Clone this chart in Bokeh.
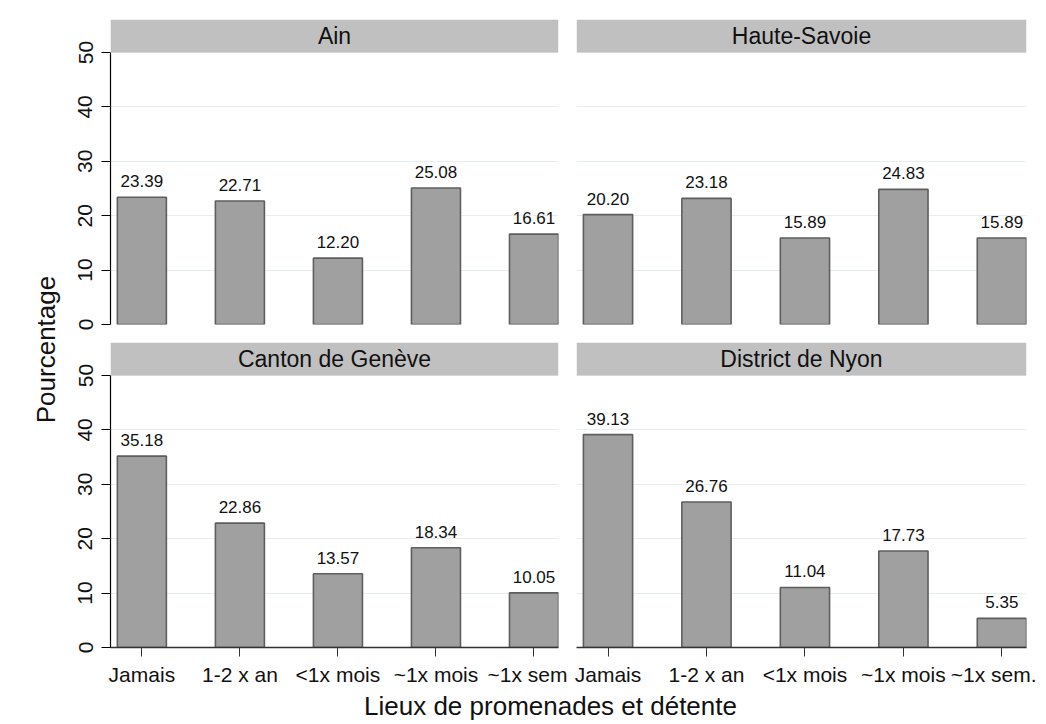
import math
from bokeh.plotting import figure
from bokeh.models import Range1d, FixedTicker, BoxAnnotation, Label, LabelSet, ColumnDataSource
from bokeh.core.properties import value
from bokeh.layouts import row, column
from bokeh.embed import file_html
from bokeh.resources import INLINE

# ---- data ----
panel_titles = ["Ain", "Haute-Savoie", "Canton de Genève", "District de Nyon"]
categories_left = ["Jamais", "1-2 x an", "<1x mois", "~1x mois", "~1x sem"]
categories_right = ["Jamais", "1-2 x an", "<1x mois", "~1x mois", "~1x sem."]
ain = [23.39, 22.71, 12.20, 25.08, 16.61]
haute_savoie = [20.20, 23.18, 15.89, 24.83, 15.89]
canton_geneve = [35.18, 22.86, 13.57, 18.34, 10.05]
district_nyon = [39.13, 26.76, 11.04, 17.73, 5.35]
y_ticks = [0, 10, 20, 30, 40, 50]
y_title = "Pourcentage"
x_title = "Lieux de promenades et détente"

# ---- style ----
FONT = "Liberation Sans"
PLOT_H = 272
HEAD_H = 33
FRAME_H = PLOT_H + HEAD_H
YMAX = 50
Y_TOP = YMAX * FRAME_H / PLOT_H
X0, X1 = 0.68, 5.25
BAR_FILL = "#a0a0a0"
BAR_LINE = "#5e5e5e"
HEAD_FILL = "#c0c0c0"
GRID = "#e6eef1"


def panel(title, values, labels, frame_w, show_y, show_x, mbl, mbr, mbt, mbb):
    p = figure(frame_width=frame_w, frame_height=FRAME_H,
               x_range=Range1d(X0, X1), y_range=Range1d(0, Y_TOP),
               output_backend="svg", toolbar_location=None,
               min_border_left=mbl, min_border_right=mbr,
               min_border_top=mbt, min_border_bottom=mbb)
    p.outline_line_color = None
    p.background_fill_color = "white"
    p.border_fill_color = "white"
    p.xgrid.visible = False
    p.ygrid.ticker = FixedTicker(ticks=y_ticks)
    p.ygrid.grid_line_color = GRID
    p.ygrid.grid_line_width = 1.2

    xs = list(range(1, len(values) + 1))
    src = ColumnDataSource(dict(x=xs, top=values, label=["%.2f" % v for v in values]))
    p.vbar(x="x", top="top", width=0.5, source=src,
           fill_color=BAR_FILL, line_color=BAR_LINE, line_width=1.6)
    p.add_layout(LabelSet(x="x", y="top", text="label", source=src,
                          text_align="center", text_baseline="alphabetic",
                          y_offset=10, text_font=value(FONT), text_font_size=value("17px"),
                          text_color=value("#111111")))

    p.add_layout(BoxAnnotation(left=X0, right=X1, bottom=YMAX, top=Y_TOP,
                               fill_color=HEAD_FILL, fill_alpha=1.0, line_color=None))
    p.add_layout(Label(x=(X0 + X1) / 2, y=(YMAX + Y_TOP) / 2, text=title,
                       text_align="center", text_baseline="middle",
                       text_font=FONT, text_font_size="23px", text_color="#111111"))

    if show_y:
        ax = p.yaxis[0]
        ax.ticker = FixedTicker(ticks=y_ticks)
        ax.bounds = (0, YMAX)
        ax.axis_line_color = "black"
        ax.axis_line_width = 1.2
        ax.major_tick_line_color = "black"
        ax.major_tick_out = 9
        ax.major_tick_in = 0
        ax.minor_tick_line_color = None
        ax.major_label_orientation = "vertical"
        ax.major_label_text_font = FONT
        ax.major_label_text_font_size = "21px"
        ax.major_label_text_color = "#111111"
        ax.major_label_standoff = 9
    else:
        p.yaxis.visible = False

    if show_x:
        ax = p.xaxis[0]
        ax.ticker = FixedTicker(ticks=xs)
        ax.major_label_overrides = {i: lab for i, lab in zip(xs, labels)}
        ax.axis_line_color = "#333333"
        ax.axis_line_width = 1.6
        ax.major_tick_line_color = "#333333"
        ax.major_tick_out = 9
        ax.major_tick_in = 0
        ax.minor_tick_line_color = None
        ax.major_label_text_font = FONT
        ax.major_label_text_font_size = "21px"
        ax.major_label_text_color = "#111111"
        ax.major_label_standoff = 6
    else:
        p.xaxis.visible = False
    return p


p1 = panel(panel_titles[0], ain, categories_left, 448, True, False, 45, 9, 19, 9)
p2 = panel(panel_titles[1], haute_savoie, categories_right, 450, False, False, 9, 10, 19, 9)
p3 = panel(panel_titles[2], canton_geneve, categories_left, 448, True, True, 45, 9, 9, 42)
p4 = panel(panel_titles[3], district_nyon, categories_right, 450, False, True, 9, 10, 9, 42)

# y-axis title strip
YL_W, YL_H = 65, 721
yl = figure(width=YL_W, height=YL_H, x_range=Range1d(0, YL_W), y_range=Range1d(0, YL_H),
            output_backend="svg", toolbar_location=None, min_border=0)
yl.axis.visible = False
yl.grid.visible = False
yl.outline_line_color = None
yl.add_layout(Label(x=45, y=YL_H - 349, text=y_title, angle=math.pi / 2,
                    text_align="center", text_baseline="middle",
                    text_font=FONT, text_font_size="26px", text_color="#111111"))

# x-axis title strip
XL_W, XL_H = 971, 32
xl = figure(width=XL_W, height=XL_H, x_range=Range1d(0, XL_W), y_range=Range1d(0, XL_H),
            output_backend="svg", toolbar_location=None, min_border=0)
xl.axis.visible = False
xl.grid.visible = False
xl.outline_line_color = None
xl.add_layout(Label(x=485, y=16, text=x_title,
                    text_align="center", text_baseline="middle",
                    text_font=FONT, text_font_size="26px", text_color="#111111"))

layout = row(yl, column(row(p1, p2), row(p3, p4), xl))

open("out.html", "w").write(file_html(layout, INLINE))
